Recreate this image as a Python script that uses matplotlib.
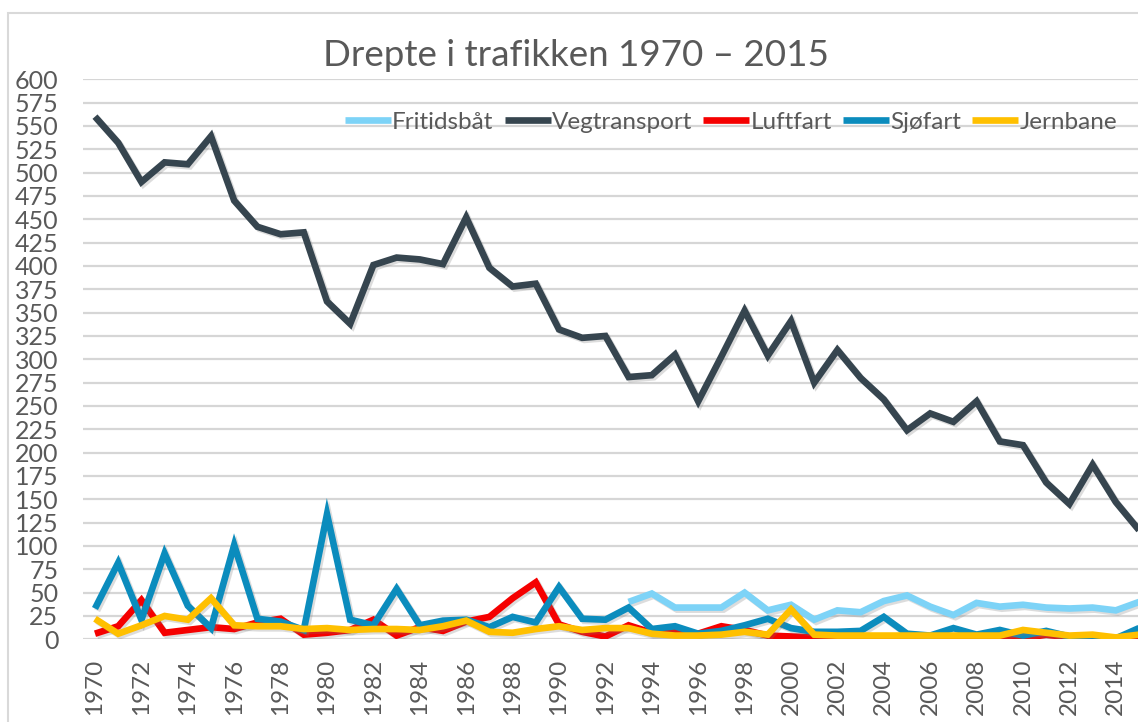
import matplotlib.pyplot as plt
import matplotlib.patheffects as pe
from matplotlib.patches import Rectangle
import numpy as np

plt.rcParams['font.family'] = ['Lato', 'DejaVu Sans']

## data ##
years = list(range(1970, 2016))

vegtransport = [560, 532, 490, 511, 509, 539, 470, 442, 434, 436,
                362, 338, 401, 409, 407, 402, 452, 398, 378, 381,
                332, 323, 325, 281, 283, 305, 255, 303, 352, 304,
                341, 275, 310, 280, 257, 224, 242, 233, 255, 212,
                208, 168, 145, 187, 147, 117]

sjofart = [33, 82, 21, 92, 36, 12, 101, 22, 19, 10,
           134, 21, 15, 54, 15, 20, 21, 13, 24, 18,
           56, 22, 21, 34, 11, 14, 6, 9, 15, 22,
           12, 8, 8, 9, 24, 6, 4, 12, 5, 10,
           4, 9, 3, 2, 1, 12]

luftfart = [6, 14, 42, 7, 10, 13, 11, 18, 22, 5,
            7, 10, 21, 4, 13, 9, 19, 24, 44, 61,
            16, 8, 3, 15, 7, 8, 6, 14, 10, 4,
            3, 2, 1, 1, 1, 2, 1, 1, 3, 1,
            1, 5, 2, 1, 1, 1]

jernbane = [22, 6, 15, 25, 21, 44, 15, 14, 14, 11,
            12, 10, 11, 11, 10, 14, 20, 8, 7, 11,
            14, 10, 12, 12, 6, 4, 4, 5, 8, 5,
            32, 5, 4, 4, 4, 4, 4, 4, 4, 4,
            10, 7, 4, 5, 2, 5]

# fritidsbaat starts in 1993
fritidsbaat = [np.nan] * 23 + [40, 49, 34, 34, 34, 50, 31, 37, 21, 31,
                               29, 41, 47, 35, 26, 39, 35, 37, 34, 33,
                               34, 31, 40]

series = [
    ('Fritidsbåt', fritidsbaat, '#7dd3f7'),
    ('Vegtransport', vegtransport, '#36454f'),
    ('Luftfart', luftfart, '#f50000'),
    ('Sjøfart', sjofart, '#0b8cbd'),
    ('Jernbane', jernbane, '#ffc000'),
]

W, H = 1138, 722
fig = plt.figure(figsize=(W / 100, H / 100), dpi=100)
fig.patch.set_facecolor('white')

# chart border (cropped at right and bottom)
fig.patches.append(Rectangle((8 / W, -0.1), 1.2, 1 - 13 / H + 0.1, transform=fig.transFigure,
                             fill=False, edgecolor='#d9d9d9', linewidth=1.5, zorder=0))

# plot area runs slightly past the right edge
left_px, right_px = 83.4, 1150.6
ax = fig.add_axes([left_px / W, 1 - 639.3 / H, (right_px - left_px) / W, 560 / H])
ax.set_facecolor('none')

shadow = [pe.SimpleLineShadow(offset=(1.5, -1.5), shadow_color='#777777', alpha=0.25), pe.Normal()]
for name, vals, col in series:
    ax.plot(years, vals, color=col, linewidth=4.8, label=name,
            solid_joinstyle='miter', solid_capstyle='butt', path_effects=shadow, clip_on=True)

ax.set_xlim(1969.5, 2015.5)
ax.set_ylim(0, 600)
ax.set_yticks(range(0, 601, 25))
ax.set_xticks(range(1970, 2015, 2))
ax.set_xticklabels([str(y) for y in range(1970, 2015, 2)], rotation=90)
ax.grid(axis='y', color='#d6d6d6', linewidth=1.6)
ax.set_axisbelow(True)
for s in ax.spines.values():
    s.set_visible(False)
ax.tick_params(axis='y', length=0, pad=18, labelsize=18, labelcolor='#595959')
ax.tick_params(axis='x', length=0, pad=14, labelsize=17.5, labelcolor='#595959')

fig.text(576 / W, 1 - 56 / H, 'Drepte i trafikken 1970 – 2015', ha='center', va='center',
         fontsize=26.5, color='#595959')

leg = ax.legend(loc='center', bbox_to_anchor=(731 / W, 1 - 122 / H), bbox_transform=fig.transFigure,
                ncol=5, frameon=False, fontsize=17.5, handlelength=1.9, handletextpad=0.05,
                columnspacing=0.45, borderpad=0)
for t in leg.get_texts():
    t.set_color('#595959')
for l in leg.get_lines():
    l.set_linewidth(4.8)
    l.set_path_effects([])

fig.savefig('out.png', dpi=100)
